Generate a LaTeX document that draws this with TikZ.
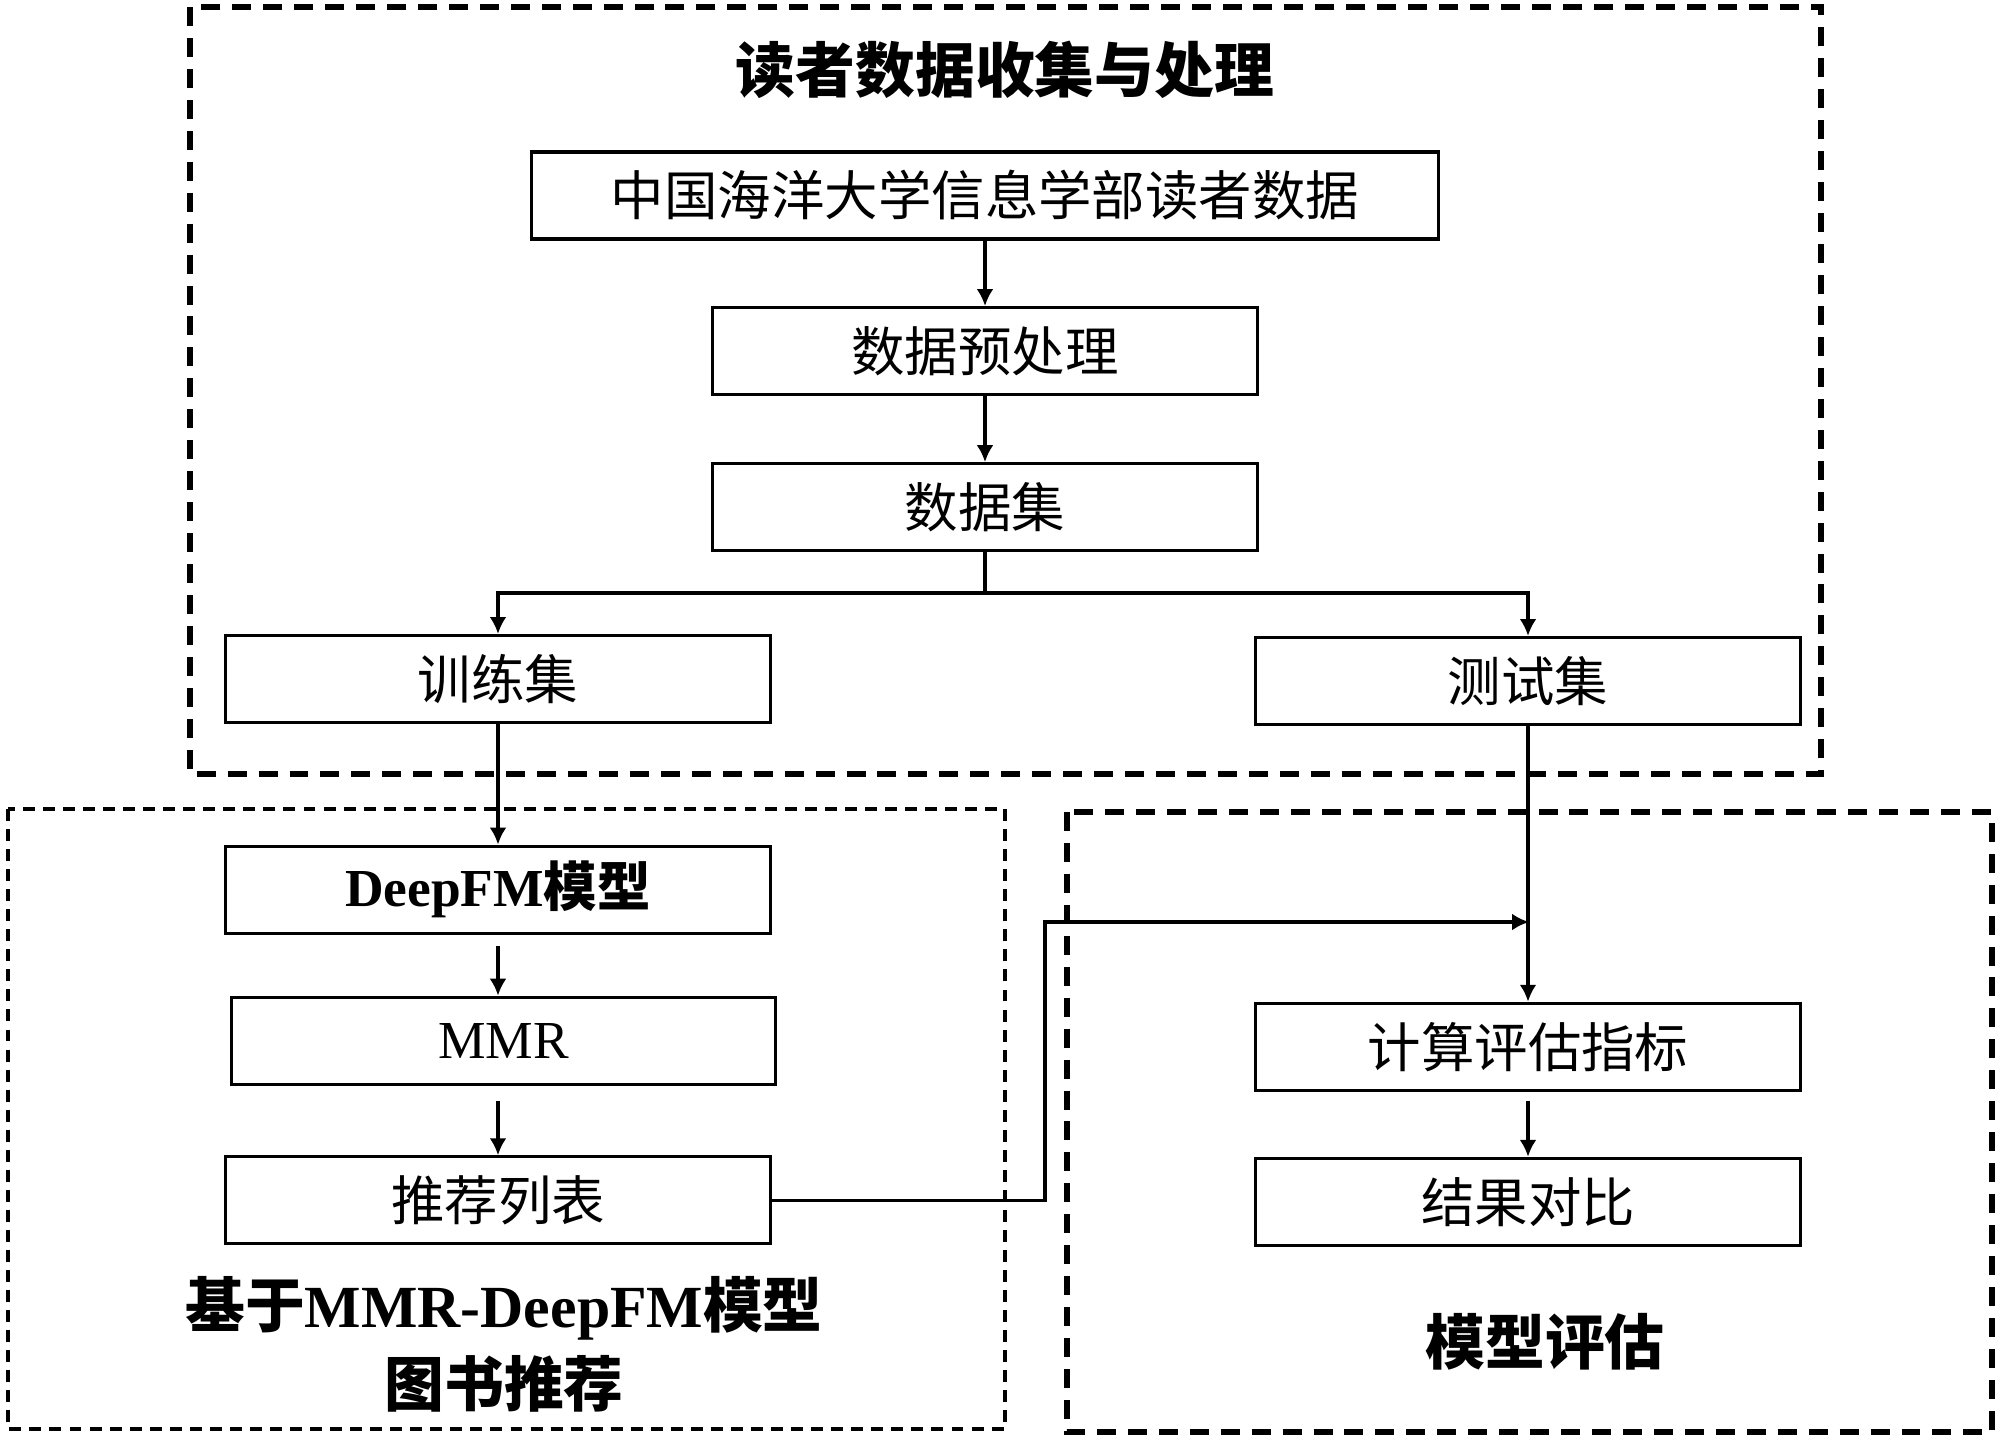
\documentclass[tikz,border=0pt]{standalone}
\usepackage{fontspec}
\setmainfont{Liberation Serif}
\newfontfamily\cjk{Noto Sans CJK SC}
\usetikzlibrary{arrows.meta, positioning}

\begin{document}
\begin{tikzpicture}[>={Latex[length=4.8pt,width=4.8pt]}, x=0.01cm, y=-0.01cm, on grid,
    blk/.style={draw, line width=0.9pt, minimum width=5.44cm, minimum height=0.87cm, inner sep=0pt, font=\fontsize{15.2}{18}\selectfont\cjk},
    wide/.style={blk, minimum width=9.06cm},
    flow/.style={->, line width=0.9pt},
    grp/.style={line width=1.5pt, dash pattern=on 5.4pt off 3.4pt},
    grpthin/.style={line width=0.9pt, dash pattern=on 3.4pt off 2.3pt},
    head/.style={font=\fontsize{17}{22.5}\selectfont\cjk\bfseries, align=center}]
        \useasboundingbox (0,0) rectangle (2000,1441);
        % frames
        \draw[grp] (190,7) rectangle (1821,774);
        \draw[grpthin] (8,809) rectangle (1005,1429);
        \draw[grp] (1067,812) rectangle (1992,1432);
        \node[head] (title) at (1005,70) {读者数据收集与处理};
        \node[head] (recl) at (504,1344) {基于{\rmfamily\bfseries MMR-DeepFM}模型\\图书推荐};
        \node[head] (evl) at (1545,1342) {模型评估};
        % boxes
        \node[wide] (src) at (985,195.5) {中国海洋大学信息学部读者数据};
        \node[blk] (prep) [below=1.555cm of src] {数据预处理};
        \node[blk] (dset) [below=1.56cm of prep] {数据集};
        \node[blk] (train) at (498,679) {训练集};
        \node[blk] (test) at (1528,681) {测试集};
        \node[blk] (deepfm) [below=2.105cm of train] {{\rmfamily\bfseries DeepFM}\textbf{模型}};
        \node[blk] (mmr) [below=1.51cm of deepfm, xshift=0.055cm] {\rmfamily MMR};
        \node[blk] (rec) [below=1.595cm of mmr, xshift=-0.055cm] {推荐列表};
        \node[blk] (calc) [below=3.655cm of test] {计算评估指标};
        \node[blk] (res) [below=1.55cm of calc] {结果对比};
        \coordinate (fork) at (985,593);
        \coordinate (turn) at (1045,922);
        \coordinate (join) at (1529,922);
        % connectors
        \draw[flow] (src) -- (prep);
        \draw[flow] (prep) -- (dset);
        \draw[line width=0.9pt] (dset) -- (fork);
        \draw[flow] (fork) -| (train);
        \draw[flow] (fork) -| (test);
        \draw[flow] (train) -- (deepfm);
        \draw[flow, shorten <=0.11cm] (deepfm.south) -- (deepfm.south |- mmr.north);
        \draw[flow, shorten <=0.15cm] (rec.north |- mmr.south) -- (rec.north);
        \draw[flow] (test) -- (calc);
        \draw[flow, shorten <=0.09cm] (calc) -- (res);
        \draw[flow] (rec.east) -| (turn) -- (join);
\end{tikzpicture}
\end{document}
